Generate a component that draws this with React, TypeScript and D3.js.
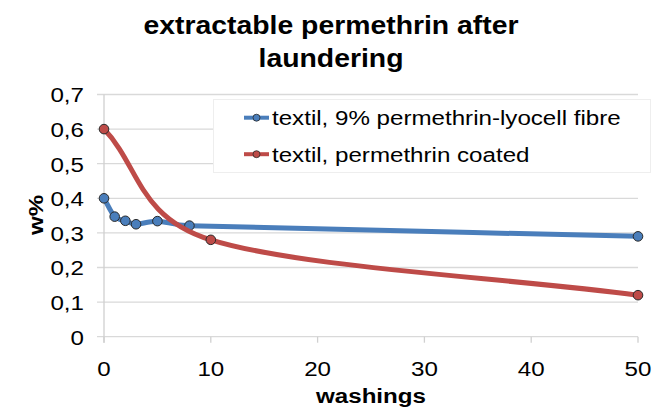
import React from "react";
import * as d3 from "d3";

const blueX = [0, 1, 2, 3, 5, 8, 50];
const blueY = [0.4, 0.347, 0.335, 0.325, 0.334, 0.321, 0.29];
const redX = [0, 10, 50];
const redY = [0.6, 0.28, 0.12];
const seriesNames = ["textil, 9% permethrin-lyocell fibre", "textil, permethrin coated"];
const xTicks = [0, 10, 20, 30, 40, 50];
const yTicks = [0, 0.1, 0.2, 0.3, 0.4, 0.5, 0.6, 0.7];
const titleLines = ["extractable permethrin after", "laundering"];
const xTitle = "washings";
const yTitle = "w%";

const W = 656, H = 408;
const FONT = "'Liberation Sans', Arial, sans-serif";
const BLUE = "#4A7EBB";
const RED = "#BE4B48";
const SX = 1.15;

type P = [number, number];
const dist = (a: P, b: P) => Math.hypot(a[0] - b[0], a[1] - b[1]);

// Excel-like smoothed Bezier path through pixel points
function smoothPath(pts: P[]): string {
  const path = d3.path();
  path.moveTo(pts[0][0], pts[0][1]);
  for (let i = 0; i < pts.length - 1; i++) {
    const p0 = i === 0 ? pts[0] : pts[i - 1];
    const p1 = pts[i];
    const p2 = pts[i + 1];
    const p3 = i + 2 < pts.length ? pts[i + 2] : pts[i + 1];
    const d02 = dist(p0, p2), d12 = dist(p1, p2), d13 = dist(p1, p3);
    let f1 = i === 0 ? 1 / 3 : 1 / 6;
    let f2 = i + 2 >= pts.length ? 1 / 3 : 1 / 6;
    if (d02 / 6 >= d12 / 2 && d02 > 0) f1 = d12 / 2 / d02;
    if (d13 / 6 >= d12 / 2 && d13 > 0) f2 = d12 / 2 / d13;
    const c1: P = [p1[0] + f1 * (p2[0] - p0[0]), p1[1] + f1 * (p2[1] - p0[1])];
    const c2: P = [p2[0] - f2 * (p3[0] - p1[0]), p2[1] - f2 * (p3[1] - p1[1])];
    path.bezierCurveTo(c1[0], c1[1], c2[0], c2[1], p2[0], p2[1]);
  }
  return path.toString();
}

export default function App() {
  const x = d3.scaleLinear().domain([0, 50]).range([104, 638]);
  const y = d3.scaleLinear().domain([0, 0.7]).range([336.7, 94.5]);
  const series = [
    { xs: blueX, ys: blueY, color: BLUE, name: seriesNames[0] },
    { xs: redX, ys: redY, color: RED, name: seriesNames[1] },
  ].map((s) => ({ ...s, px: s.xs.map((v, i) => [x(v), y(s.ys[i])] as P) }));
  const fmt = (v: number) => (v === 0 ? "0" : v.toFixed(1).replace(".", ","));
  return (
    <svg width={W} height={H} style={{ position: "absolute", left: 0, top: 0, background: "#fff" }}>
      <rect width={W} height={H} fill="#fff" />
      {titleLines.map((t, i) => (
        <text
          key={i}
          transform={`translate(331,${33.5 + i * 33.3}) scale(1.07,1)`}
          textAnchor="middle"
          fontFamily={FONT}
          fontWeight="bold"
          fontSize={26.5}
          fill="#000"
        >
          {t}
        </text>
      ))}
      {yTicks.map((t) => (
        <g key={t}>
          <line x1={97} x2={638} y1={y(t)} y2={y(t)} stroke="#d9d9d9" strokeWidth={1.3} />
          <text transform={`translate(84,${y(t) + 7.8}) scale(${SX},1)`} textAnchor="end" fontFamily={FONT} fontSize={21} fill="#000">
            {fmt(t)}
          </text>
        </g>
      ))}
      <line x1={x(0)} x2={x(0)} y1={y(0.7)} y2={y(0) + 6} stroke="#d0d0d0" strokeWidth={1.3} />
      {xTicks.map((t) => (
        <g key={t}>
          <line x1={x(t)} x2={x(t)} y1={y(0)} y2={y(0) + 6} stroke="#d0d0d0" strokeWidth={1.3} />
          <text transform={`translate(${x(t)},${376}) scale(${SX},1)`} textAnchor="middle" fontFamily={FONT} fontSize={21} fill="#000">
            {t}
          </text>
        </g>
      ))}
      <text transform={`translate(371,403) scale(${SX},1)`} textAnchor="middle" fontFamily={FONT} fontWeight="bold" fontSize={21} fill="#000">
        {xTitle}
      </text>
      <text transform={`translate(43,215) rotate(-90) scale(${SX},1)`} textAnchor="middle" fontFamily={FONT} fontWeight="bold" fontSize={21} fill="#000">
        {yTitle}
      </text>
      {series.map((s) => (
        <g key={s.name}>
          <path d={smoothPath(s.px)} fill="none" stroke={s.color} strokeWidth={5} strokeLinejoin="round" strokeLinecap="round" />
          {s.px.map((p, i) => (
            <circle key={i} cx={p[0]} cy={p[1]} r={4.8} fill={s.color} stroke="#2a2a2a" strokeWidth={1} />
          ))}
        </g>
      ))}
      <rect x={213.5} y={99.5} width={437} height={73} fill="#fff" stroke="#eeeeee" strokeWidth={1} />
      {series.map((s, i) => (
        <g key={s.name} transform={`translate(0,${117.7 + i * 36.5})`}>
          <line x1={244} x2={269} y1={0} y2={0} stroke={s.color} strokeWidth={4} />
          <circle cx={256.5} cy={0} r={3.5} fill={s.color} stroke="#2a2a2a" strokeWidth={0.8} />
          <text transform={`translate(272,7.5) scale(${SX},1)`} fontFamily={FONT} fontSize={21} fill="#000">
            {s.name}
          </text>
        </g>
      ))}
    </svg>
  );
}
